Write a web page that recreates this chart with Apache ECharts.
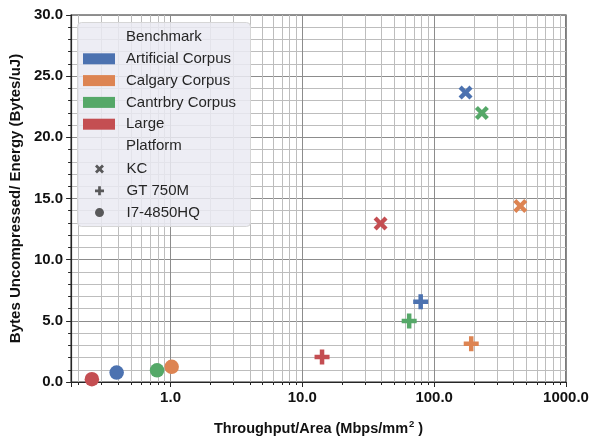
<!DOCTYPE html>
<html>
<head>
<meta charset="utf-8">
<script src="https://cdn.jsdelivr.net/npm/echarts@6/dist/echarts.min.js"></script>
<style>
  html, body { margin: 0; padding: 0; background: #fff; }
  #chart { width: 592px; height: 441px; }
</style>
</head>
<body>
<div id="chart"></div>
<script>
// benchmarks (colour) and platforms (marker)
var benchmarks = ['Artificial Corpus', 'Calgary Corpus', 'Cantrbry Corpus', 'Large'];
var benchColors = ['#4C72B0', '#DD8452', '#55A868', '#C44E52'];
var platforms = ['KC', 'GT 750M', 'I7-4850HQ'];

// throughput/area per benchmark, in platform order KC, GT 750M, I7-4850HQ
var throughputArtificial = [173, 79, 0.39];
var throughputCalgary = [450, 191, 1.02];
var throughputCantrbry = [230, 64.6, 0.79];
var throughputLarge = [39.2, 14.1, 0.253];

// bytes uncompressed / energy
var energyArtificial = [23.66, 6.57, 0.77];
var energyCalgary = [14.39, 3.13, 1.24];
var energyCantrbry = [21.99, 4.98, 0.96];
var energyLarge = [12.96, 2.05, 0.23];

var yTicks = [0, 5, 10, 15, 20, 25, 30];

var throughputs = [throughputArtificial, throughputCalgary, throughputCantrbry, throughputLarge];
var energies = [energyArtificial, energyCalgary, energyCantrbry, energyLarge];

var xSymbol = 'path://M0,2.2 L2.2,0 L5,2.8 L7.8,0 L10,2.2 L7.2,5 L10,7.8 L7.8,10 L5,7.2 L2.2,10 L0,7.8 L2.8,5 Z';
var plusSymbol = 'path://M3.5,0 H6.5 V3.5 H10 V6.5 H6.5 V10 H3.5 V6.5 H0 V3.5 H3.5 Z';
var platformSymbols = [xSymbol, plusSymbol, 'circle'];
var platformSizes = [14, 15, 14.5];

var fontFam = '"Liberation Sans", Arial, Helvetica, sans-serif';

var chartDom = document.getElementById('chart');
var myChart = echarts.init(chartDom);

var series = [];
benchmarks.forEach(function (name, i) {
    var data = [];
    platforms.forEach(function (p, j) {
        data.push({
            value: [throughputs[i][j], energies[i][j]],
            symbol: platformSymbols[j],
            symbolSize: platformSizes[j]
        });
    });
    series.push({
        name: name,
        type: 'scatter',
        data: data,
        itemStyle: { color: benchColors[i], opacity: 1 },
        z: 5
    });
});
// dummy series for legend headers and platform markers
['Benchmark', 'Platform'].forEach(function (n) {
    series.push({ name: n, type: 'scatter', data: [], itemStyle: { color: 'transparent' } });
});
platforms.forEach(function (p, j) {
    series.push({ name: p, type: 'scatter', data: [], symbol: platformSymbols[j], itemStyle: { color: '#333' } });
});

var legendText = { fontFamily: fontFam, fontSize: 15, color: '#262626', padding: [0, 0, 0, 6], lineHeight: 16 };

var option = {
    animation: false,
    textStyle: { fontFamily: fontFam },
    grid: {
        left: 69, right: 26, top: 15, bottom: 57.5,
        show: true, borderColor: '#262626', borderWidth: 1.2, backgroundColor: '#fff'
    },
    graphic: [{
        type: 'rect',
        left: 77, top: 22,
        shape: { width: 173, height: 204, r: 4 },
        style: { fill: 'rgba(234,234,242,0.85)', stroke: '#d6d6d6', lineWidth: 1 },
        z: 90
    }],
    legend: [{
        orient: 'vertical',
        left: 78, top: 24,
        itemWidth: 32, itemHeight: 11,
        itemGap: 5.8,
        selectedMode: false,
        textStyle: legendText,
        z: 100,
        data: [
            { name: 'Benchmark', icon: 'none' },
            { name: benchmarks[0], icon: 'rect' },
            { name: benchmarks[1], icon: 'rect' },
            { name: benchmarks[2], icon: 'rect' },
            { name: benchmarks[3], icon: 'rect' },
            { name: 'Platform', icon: 'none' }
        ]
    }, {
        orient: 'vertical',
        left: 90, top: 156,
        itemWidth: 32, itemHeight: 9,
        itemGap: 5.8,
        selectedMode: false,
        textStyle: legendText,
        z: 100,
        data: [
            { name: platforms[0], icon: xSymbol },
            { name: platforms[1], icon: plusSymbol },
            { name: platforms[2], icon: 'circle' }
        ]
    }],
    xAxis: {
        type: 'log',
        logBase: 10,
        min: 0.176,
        max: 1000,
        name: 'Throughput/Area (Mbps/mm{sup|2} )',
        nameLocation: 'middle',
        nameGap: 37,
        nameTextStyle: {
            fontFamily: fontFam, fontSize: 14.5, fontWeight: 'bold', color: '#111',
            rich: { sup: { fontSize: 9.5, fontWeight: 'bold', color: '#111', padding: [0, 0, 9, 1] } }
        },
        axisLine: { show: true, onZero: false, lineStyle: { color: '#262626', width: 1.2 } },
        axisTick: { show: true, length: 5, lineStyle: { color: '#262626' } },
        minorTick: { show: true, splitNumber: 9, length: 3, lineStyle: { color: '#262626' } },
        axisLabel: {
            fontFamily: fontFam, fontSize: 15, fontWeight: 'bold', color: '#111', margin: 8,
            formatter: function (v) {
                var l = Math.log10(v);
                return Math.abs(l - Math.round(l)) < 1e-6 ? v.toFixed(1) : '';
            }
        },
        splitLine: { show: true, lineStyle: { color: '#8c8c8c', width: 1 } },
        minorSplitLine: { show: true, lineStyle: { color: '#bdbdbd', width: 1 } }
    },
    yAxis: {
        type: 'value',
        min: yTicks[0],
        max: yTicks[yTicks.length - 1],
        interval: 5,
        name: 'Bytes Uncompressed/ Energy (Bytes/uJ)',
        nameLocation: 'middle',
        nameGap: 45,
        nameTextStyle: { fontFamily: fontFam, fontSize: 15, fontWeight: 'bold', color: '#111' },
        axisLine: { show: true, lineStyle: { color: '#262626', width: 1.2 } },
        axisTick: { show: true, length: 5, lineStyle: { color: '#262626' } },
        minorTick: { show: true, splitNumber: 5, length: 3, lineStyle: { color: '#262626' } },
        axisLabel: {
            fontFamily: fontFam, fontSize: 15, fontWeight: 'bold', color: '#111', margin: 8,
            formatter: function (v) { return v.toFixed(1); }
        },
        splitLine: { show: true, lineStyle: { color: '#8c8c8c', width: 1 } },
        minorSplitLine: { show: true, lineStyle: { color: '#bdbdbd', width: 1 } }
    },
    series: series
};

option && myChart.setOption(option);
</script>
</body>
</html>
